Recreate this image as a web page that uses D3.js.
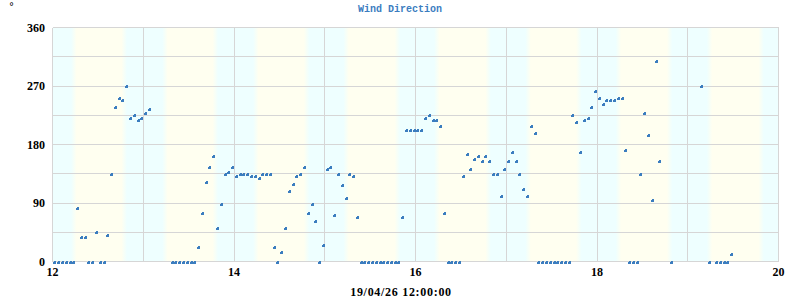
<!DOCTYPE html>
<html>
<head>
<meta charset="utf-8">
<script src="https://cdn.jsdelivr.net/npm/d3@7"></script>
<style>
  body { margin: 0; background: #fff; }
  svg { display: block; }
</style>
</head>
<body>
<div id="chart"></div>
<script>
// hours counted from day 12 00:00, one reading per hour (gaps = no data)
let hours = [0, 1, 2, 3, 4, 5, 6, 7, 8, 9, 10, 11, 12, 13, 14, 15, 16, 17, 18, 19, 20, 21, 22, 23, 24, 25,
  31, 32, 33, 34, 35, 36, 37, 38, 39, 40, 41, 42, 43, 44, 45, 46, 47, 48, 49, 50, 51, 52, 53, 54, 55, 56, 57,
  58, 59, 60, 61, 62, 63, 64, 65, 66, 67, 68, 69, 70, 71, 72, 73, 74, 75, 76, 77, 78, 79, 80,
  81, 82, 83, 84, 85, 86, 87, 88, 89, 90, 91, 92, 93, 94, 95, 96, 97, 98, 99, 100, 101, 102, 103,
  104, 105, 106, 107, 108, 109, 110, 111, 112, 113, 114, 115, 116, 117, 118, 119, 120, 121, 122, 123, 124, 125, 126, 127,
  128, 129, 130, 131, 132, 133, 134, 135, 136, 137, 138, 139, 140, 141, 142, 143, 144, 145, 146, 147, 148, 149, 150, 151,
  152, 153, 154, 155, 156, 157, 158, 159, 160, 163, 171, 173, 175, 176, 177, 178, 179];
let direction = [0, 0, 0, 0, 0, 0, 83, 37, 37, 0, 0, 45, 0, 0, 41, 135, 237, 251, 248, 270, 220, 225, 217, 220, 229, 234,
  0, 0, 0, 0, 0, 0, 0, 23, 75, 123, 146, 162, 52, 89, 135, 138, 146, 131, 135, 135, 135, 131, 131, 128, 135, 135, 135,
  23, 0, 15, 52, 109, 120, 131, 135, 146, 75, 89, 63, 0, 26, 143, 146, 71, 135, 117, 98, 135, 131, 68,
  0, 0, 0, 0, 0, 0, 0, 0, 0, 0, 0, 68, 203, 203, 203, 203, 203, 221, 225, 217, 217, 209, 75,
  0, 0, 0, 0, 131, 165, 143, 157, 162, 154, 162, 154, 135, 135, 101, 143, 154, 169, 154, 135, 112, 101, 208, 198,
  0, 0, 0, 0, 0, 0, 0, 0, 0, 225, 214, 169, 217, 221, 237, 263, 251, 243, 248, 248, 248, 251, 251, 172,
  0, 0, 0, 135, 229, 195, 94, 308, 154, 0, 270, 0, 0, 0, 0, 0, 11];

// daylight shading (day of month, fractional)
let sunrise = [12.235, 13.24, 14.24, 15.235, 16.235, 17.24, 18.235, 19.24];
let sunset = [12.79, 13.795, 14.8, 15.8, 16.8, 17.8, 18.8, 19.81];

let yTicks = [0, 90, 180, 270, 360];
let yGrid = [0, 45, 90, 135, 180, 225, 270, 315, 360];
let xTicks = [12, 14, 16, 18, 20];
let xGrid = [12, 13, 14, 15, 16, 17, 18, 19, 20];

let title = "Wind Direction";
let unit = "°";
let dateLabel = "19/04/26 12:00:00";

const width = 800, height = 300;
const plotLeft = 52.5, plotRight = 778.5, plotTop = 27.5, plotBottom = 261.5;
const blue = "#3b7dbf";
const gridColor = "#d6d6d6";
const sky = "#eeffff", day = "#fffff0";

let svg = d3.select("#chart")
  .append("svg")
    .attr("width", width)
    .attr("height", height);

let x = d3.scaleLinear().domain([12, 20]).range([plotLeft, plotRight]);
let y = d3.scaleLinear().domain([0, 360]).range([plotBottom, plotTop]);
let px = v => Math.round(v - 0.5) + 0.5;

// background gradient night/day
let grad = svg.append("defs").append("linearGradient")
  .attr("id", "daylight")
  .attr("gradientUnits", "userSpaceOnUse")
  .attr("x1", plotLeft).attr("x2", plotRight)
  .attr("y1", 0).attr("y2", 0);

let fade = 0.03;
let stops = [{o: 12, c: sky}];
sunrise.forEach((s, i) => {
  stops.push({o: s - fade, c: sky}, {o: s + fade, c: day});
  stops.push({o: sunset[i] - fade, c: day}, {o: sunset[i] + fade, c: sky});
});
stops.push({o: 20, c: sky});
grad.selectAll("stop")
  .data(stops)
  .enter()
  .append("stop")
    .attr("offset", d => Math.max(0, Math.min(1, (d.o - 12) / 8)))
    .attr("stop-color", d => d.c);

svg.append("rect")
  .attr("x", plotLeft).attr("y", plotTop)
  .attr("width", plotRight - plotLeft).attr("height", plotBottom - plotTop)
  .attr("fill", "url(#daylight)");

// grid
let grid = svg.append("g")
  .attr("stroke", gridColor)
  .attr("stroke-width", 1)
  .attr("shape-rendering", "crispEdges");

grid.selectAll(".h")
  .data(yGrid)
  .enter()
  .append("line")
    .attr("class", "h")
    .attr("x1", plotLeft).attr("x2", plotRight)
    .attr("y1", d => px(y(d))).attr("y2", d => px(y(d)));

grid.selectAll(".v")
  .data(xGrid)
  .enter()
  .append("line")
    .attr("class", "v")
    .attr("y1", plotTop).attr("y2", plotBottom)
    .attr("x1", d => px(x(d))).attr("x2", d => px(x(d)));

// points
let marker = "M-0.5,-1.5H1.5V1.5H-1.5V-0.5H-0.5Z";
let points = hours.map((h, i) => ({t: 12 + (h + 0.5) / 24, v: direction[i]}));

svg.append("g")
  .selectAll("path")
  .data(points)
  .enter()
  .append("path")
    .attr("d", marker)
    .attr("transform", d => "translate(" + Math.round(x(d.t)) + "," + Math.round(y(d.v)) + ")")
    .attr("fill", blue)
    .attr("shape-rendering", "crispEdges");

// labels
let labelFont = "'Liberation Serif', serif";

svg.append("g")
  .selectAll("text")
  .data(yTicks)
  .enter()
  .append("text")
    .attr("x", 45)
    .attr("y", d => y(d) + 4)
    .attr("text-anchor", "end")
    .style("font", "bold 12px " + labelFont)
    .text(d => d);

svg.append("g")
  .selectAll("text")
  .data(xTicks)
  .enter()
  .append("text")
    .attr("x", d => x(d))
    .attr("y", 276)
    .attr("text-anchor", "middle")
    .style("font", "bold 12px " + labelFont)
    .text(d => d);

svg.append("text")
  .attr("x", 401)
  .attr("y", 296)
  .attr("text-anchor", "middle")
  .style("font", "bold 12px " + labelFont)
  .style("letter-spacing", "0.7px")
  .text(dateLabel);

svg.append("text")
  .attr("x", 400)
  .attr("y", 12)
  .attr("text-anchor", "middle")
  .attr("fill", blue)
  .style("font", "bold 10px 'Liberation Mono', monospace")
  .text(title);

svg.append("text")
  .attr("x", 9)
  .attr("y", 10)
  .style("font", "10px 'DejaVu Sans', sans-serif")
  .text(unit);
</script>
</body>
</html>
